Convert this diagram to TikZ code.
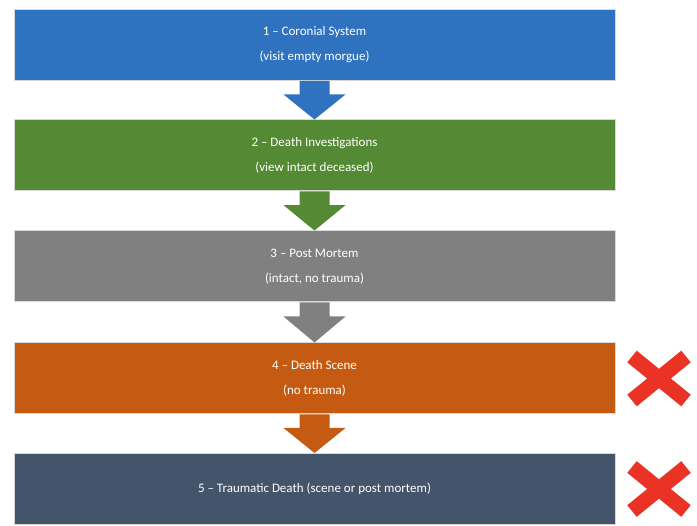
\documentclass[tikz,border=0pt]{standalone}
\usepackage{fontspec}
\setmainfont{Carlito}
\usetikzlibrary{calc}
\definecolor{cblue}{HTML}{2F72C0}
\definecolor{cgreen}{HTML}{548A33}
\definecolor{cgray}{HTML}{808080}
\definecolor{corange}{HTML}{C55B12}
\definecolor{cnavy}{HTML}{44546A}
\definecolor{cred}{HTML}{EA3325}
\begin{document}
\begin{tikzpicture}[x=1pt,y=1pt,
  stage/.style={draw=black!15,line width=1pt,minimum width=601pt,minimum height=71pt,
    text=white,font=\fontsize{13}{25}\selectfont,align=center,inner sep=0pt}]
\useasboundingbox (0,0) rectangle (697,-526);
\node[stage,fill=cblue]   (s1) at (314.5,-45)  {1 – Coronial System\\(visit empty morgue)};
\node[stage,fill=cgreen]  (s2) at (314.5,-155.5) {2 – Death Investigations\\(view intact deceased)};
\node[stage,fill=cgray]   (s3) at (314.5,-266.5) {3 – Post Mortem\\(intact, no trauma)};
\node[stage,fill=corange] (s4) at (314.5,-378.5) {4 – Death Scene\\(no trauma)};
\node[stage,fill=cnavy]   (s5) at (314.5,-489) {5 – Traumatic Death (scene or post mortem)};
\foreach \a/\b/\c in {s1/s2/cblue,s2/s3/cgreen,s3/s4/cgray,s4/s5/corange}{
  \fill[\c] let \p1=(\a.south), \p2=(\b.north), \n1={\y1-\y2} in
    (\x1-15,\y1) -- (\x1+15,\y1) -- (\x1+15,\y1-0.35*\n1) -- (\x1+31,\y1-0.35*\n1)
    -- (\x2,\y2) -- (\x1-31,\y1-0.35*\n1) -- (\x1-15,\y1-0.35*\n1) -- cycle;
}
\foreach \cy/\n in {-378.5/x4,-489/x5}{
  \coordinate (\n) at (659,\cy);
  \draw[cred,line width=15pt] ([shift={(-27,22)}]\n) -- ([shift={(27,-22)}]\n)
    ([shift={(-27,-22)}]\n) -- ([shift={(27,22)}]\n);
}
\end{tikzpicture}
\end{document}
